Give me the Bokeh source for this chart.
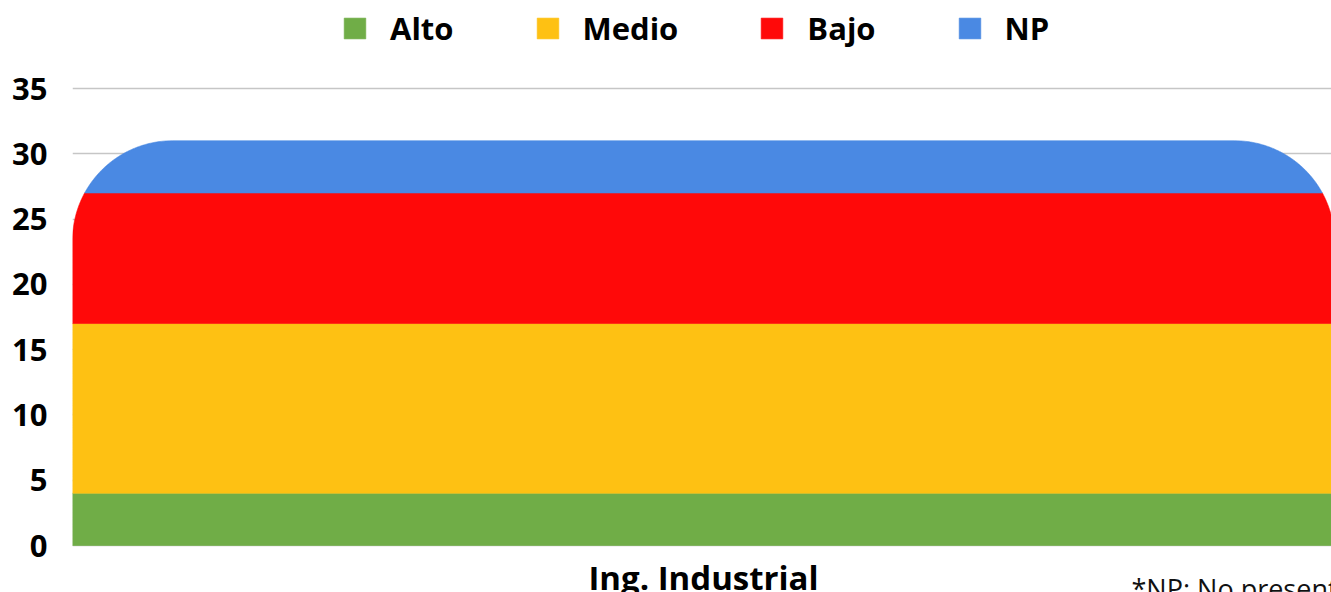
import numpy as np
from bokeh.plotting import figure
from bokeh.models import Range1d, FixedTicker, Legend, LegendItem, Label, ColumnDataSource
from bokeh.embed import file_html
from bokeh.resources import INLINE

# ---- data ----
categories = ["Ing. Industrial"]
levels = ["Alto", "Medio", "Bajo", "NP"]
alto = [4]
medio = [13]
bajo = [10]
np_count = [4]
colors = ["#70ad47", "#fec113", "#ff0909", "#4a89e3"]
y_ticks = [0, 5, 10, 15, 20, 25, 30, 35]
footnote = "*NP: No presentó"

# ---- layout / style (pixels) ----
W, H = 1331, 592
LEFT = 72              # y-axis panel width
ZERO_PX = 545          # canvas row of value 0
TOP_TICK_PX = 88       # canvas row of the top tick
bar_px = 1262          # bar slot width in px (slightly wider than the visible frame)
radius_px = 100
FONT = "Open Sans"

y_top_tick = y_ticks[-1]
px_per_unit = (ZERO_PX - TOP_TICK_PX) / y_top_tick
y_start = -(H - ZERO_PX) / px_per_unit
y_end = y_top_tick + TOP_TICK_PX / px_per_unit
frame_w = W - LEFT

p = figure(width=W, height=H,
           x_range=Range1d(0, len(categories) * frame_w / bar_px),
           y_range=Range1d(y_start, y_end),
           x_axis_location=None,
           output_backend="svg", toolbar_location=None,
           min_border_left=LEFT, min_border_right=0,
           min_border_top=0, min_border_bottom=0)
p.outline_line_color = None
p.xgrid.visible = False
p.ygrid.grid_line_color = "#c6c6c6"
p.ygrid.grid_line_width = 1.6
p.ygrid.ticker = FixedTicker(ticks=y_ticks)

ax = p.yaxis[0]
ax.ticker = FixedTicker(ticks=y_ticks)
ax.axis_line_color = None
ax.major_tick_line_color = None
ax.minor_tick_line_color = None
ax.major_tick_out = 0
ax.major_tick_in = 0
ax.major_label_standoff = 25
ax.major_label_text_font = FONT
ax.major_label_text_font_style = "bold"
ax.major_label_text_font_size = "31px"
ax.major_label_text_color = "#000000"

# ---- stacked bar with rounded top corners (clipped per segment) ----
series = [alto, medio, bajo, np_count]
rx = radius_px / bar_px
ry = radius_px / px_per_unit


def inset(y, total):
    yc = total - ry
    t = np.clip((y - yc) / ry, 0.0, 1.0)
    return rx * (1.0 - np.sqrt(1.0 - t ** 2))


seg_xs = [[] for _ in levels]
seg_ys = [[] for _ in levels]
for ci, cat in enumerate(categories):
    vals = [s[ci] for s in series]
    total = sum(vals)
    x0, x1 = ci, ci + 1
    base = 0.0
    for li, v in enumerate(vals):
        y0, y1 = base, base + v
        ys = np.linspace(y0, y1, 240)
        yc = total - ry
        if y0 < yc < y1:
            ys = np.unique(np.append(ys, yc))
        d = inset(ys, total)
        xs_poly = np.concatenate([x0 + d, (x1 - d)[::-1]])
        ys_poly = np.concatenate([ys, ys[::-1]])
        seg_xs[li].append(xs_poly.tolist())
        seg_ys[li].append(ys_poly.tolist())
        base = y1

renderers = []
for li, lv in enumerate(levels):
    src = ColumnDataSource(dict(xs=seg_xs[li], ys=seg_ys[li]))
    r = p.patches(xs="xs", ys="ys", source=src, fill_color=colors[li],
                  line_color=colors[li], line_width=0.6)
    renderers.append(r)

legend = Legend(items=[LegendItem(label=lv, renderers=[r]) for lv, r in zip(levels, renderers)],
                orientation="horizontal", location=(269, H - 49),
                glyph_width=27, glyph_height=26, label_standoff=22, spacing=80,
                padding=0, margin=0, border_line_color=None, background_fill_alpha=0,
                label_text_font=FONT, label_text_font_style="bold",
                label_text_font_size="31px", label_text_color="#000000",
                label_text_baseline="middle")
p.add_layout(legend, "center")

# category label under the bar
for ci, cat in enumerate(categories):
    p.add_layout(Label(x=ci + 0.5, y=H - 554, x_units="data", y_units="screen", text=cat,
                       text_align="center", text_baseline="top", text_font=FONT,
                       text_font_style="bold", text_font_size="33px", text_color="#000000"))

p.add_layout(Label(x=1131 - LEFT, y=H - 569, x_units="screen", y_units="screen", text=footnote,
                   text_align="left", text_baseline="top", text_font=FONT,
                   text_font_size="27px", text_color="#111111"))

open("out.html", "w").write(file_html(p, INLINE))
